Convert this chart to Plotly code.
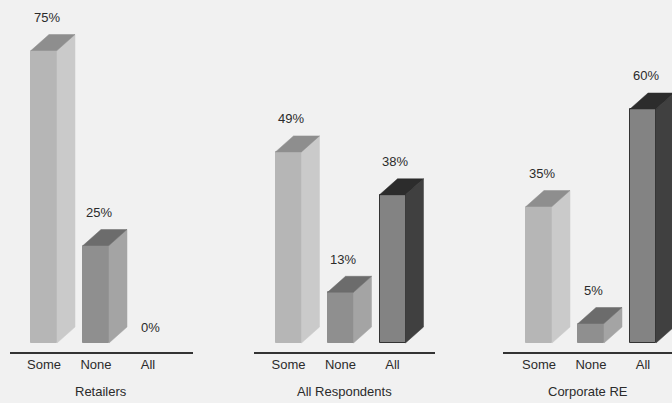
import plotly.graph_objects as go

# ---- data ----
groups = ["Retailers", "All Respondents", "Corporate RE"]
categories = ["Some", "None", "All"]
values_retailers = [75, 25, 0]
values_all_resp = [49, 13, 38]
values_corporate = [35, 5, 60]
group_values = [values_retailers, values_all_resp, values_corporate]

# ---- styling ----
front_colors = ["#b6b6b6", "#8f8f8f", "#838383"]
side_colors = ["#cacaca", "#a4a4a4", "#404040"]
top_colors = ["#8e8e8e", "#6c6c6c", "#2c2c2c"]
front_lines = ["#b6b6b6", "#8f8f8f", "#333333"]
BG = "#f1f1f1"
TXT = "#2b2b2b"
FONT = "Liberation Sans, Arial, sans-serif"

W, H = 672, 403
BOTTOM = 51
PX_PER_PCT = 3.9
BAR_W = 0.5          # in x units (52 px per unit)
DX = 18 / 52.0       # depth in x units
DY = 16 / PX_PER_PCT  # depth in % units
Y_MIN = -9 / PX_PER_PCT
Y_MAX = (H - BOTTOM - 9) / PX_PER_PCT

domains = [(10 / W, 193 / W), (254 / W, 435 / W), (503 / W, 1.0)]
x_ranges = [(-34 / 52, (193 - 10 - 34) / 52),
            (-34.5 / 52, (435 - 254 - 34.5) / 52),
            (-36 / 52, (672 - 503 - 36) / 52)]

fig = go.Figure()
annotations = []

for g, (name, vals) in enumerate(zip(groups, group_values)):
    xa = "x" if g == 0 else f"x{g + 1}"
    ya = "y" if g == 0 else f"y{g + 1}"
    xs = list(range(len(categories)))
    # front faces
    fig.add_trace(go.Bar(
        x=xs, y=vals, base=0, width=BAR_W,
        marker=dict(color=front_colors,
                    line=dict(color=front_lines,
                              width=[1 if v > 0 else 0 for v in vals])),
        xaxis=xa, yaxis=ya, showlegend=False, hoverinfo="skip"))
    for i, v in enumerate(vals):
        if v <= 0:
            continue
        l, r = i - BAR_W / 2, i + BAR_W / 2
        # side face
        fig.add_trace(go.Scatter(
            x=[r, r + DX, r + DX, r, r], y=[0, DY, v + DY, v, 0],
            fill="toself", fillcolor=side_colors[i], mode="lines",
            line=dict(width=0.5, color=side_colors[i]),
            xaxis=xa, yaxis=ya, showlegend=False, hoverinfo="skip"))
        # top face
        fig.add_trace(go.Scatter(
            x=[l, l + DX, r + DX, r, l], y=[v, v + DY, v + DY, v, v],
            fill="toself", fillcolor=top_colors[i], mode="lines",
            line=dict(width=0.5, color=top_colors[i]),
            xaxis=xa, yaxis=ya, showlegend=False, hoverinfo="skip"))
    for i, v in enumerate(vals):
        ly = v + DY + (4.4 if v > 0 else 0)
        annotations.append(dict(
            x=i + 0.05, y=ly, xref=xa, yref=ya, text=f"{v}%",
            showarrow=False, font=dict(size=13, color=TXT, family=FONT),
            xanchor="center", yanchor="middle"))
    annotations.append(dict(
        x=0.5, y=-(392 - (H - BOTTOM)) / (H - BOTTOM),
        xref=f"{xa} domain", yref="paper", text=name, showarrow=False,
        font=dict(size=13, color=TXT, family=FONT),
        xanchor="center", yanchor="middle"))

layout = dict(
    width=W, height=H, paper_bgcolor=BG, plot_bgcolor=BG,
    margin=dict(l=0, r=0, t=0, b=BOTTOM),
    annotations=annotations, bargap=0,
    font=dict(family=FONT, color=TXT, size=13),
)
for g in range(3):
    xk = "xaxis" if g == 0 else f"xaxis{g + 1}"
    yk = "yaxis" if g == 0 else f"yaxis{g + 1}"
    layout[xk] = dict(
        domain=list(domains[g]), range=list(x_ranges[g]),
        anchor="y" if g == 0 else f"y{g + 1}",
        tickvals=[0, 1, 2], ticktext=categories,
        showline=True, linecolor="#333333", linewidth=1.5,
        showgrid=False, zeroline=False, ticks="",
        tickfont=dict(size=13, color=TXT, family=FONT), fixedrange=True)
    layout[yk] = dict(
        domain=[0, 1], range=[Y_MIN, Y_MAX],
        anchor="x" if g == 0 else f"x{g + 1}",
        visible=False, showgrid=False, zeroline=False, fixedrange=True)

fig.update_layout(**layout)
fig.write_html("out.html")
